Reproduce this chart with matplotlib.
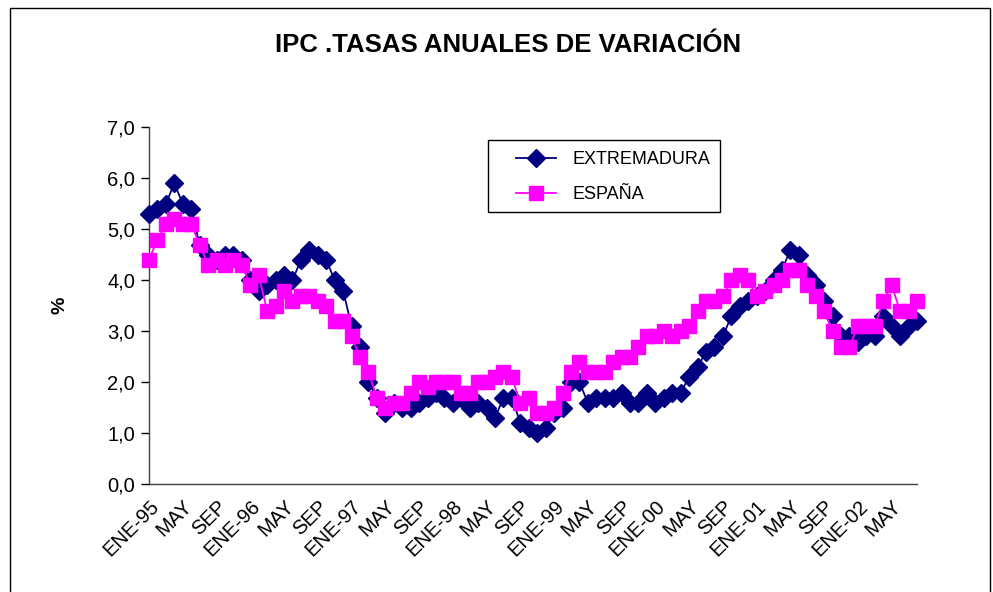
import matplotlib
matplotlib.use("Agg")
import matplotlib.pyplot as plt
from matplotlib.lines import Line2D
from matplotlib.patches import Rectangle

plt.rcParams.update({
    "font.family": ["Liberation Sans", "DejaVu Sans"],
    "font.size": 12,
})

# monthly annual CPI rates, ENE-95 .. AGO-02
extremadura = [
    5.3, 5.4, 5.5, 5.9, 5.5, 5.4, 4.7, 4.5, 4.4, 4.5, 4.5, 4.4,
    4.0, 3.8, 3.9, 4.0, 4.1, 4.0, 4.4, 4.6, 4.5, 4.4, 4.0, 3.8,
    3.1, 2.7, 2.0, 1.7, 1.4, 1.6, 1.5, 1.5, 1.6, 1.7, 1.8, 1.7,
    1.6, 1.7, 1.5, 1.6, 1.5, 1.3, 1.7, 1.7, 1.2, 1.1, 1.0, 1.1,
    1.4, 1.5, 2.0, 2.0, 1.6, 1.7, 1.7, 1.7, 1.8, 1.6, 1.6, 1.8,
    1.6, 1.7, 1.8, 1.8, 2.1, 2.3, 2.6, 2.7, 2.9, 3.3, 3.5, 3.6,
    3.7, 3.8, 4.0, 4.2, 4.6, 4.5, 4.1, 3.9, 3.6, 3.3, 2.9, 2.9,
    2.8, 2.9, 2.9, 3.3, 3.1, 2.9, 3.1, 3.2,
]
espana = [
    4.4, 4.8, 5.1, 5.2, 5.1, 5.1, 4.7, 4.3, 4.4, 4.3, 4.4, 4.3,
    3.9, 4.1, 3.4, 3.5, 3.8, 3.6, 3.7, 3.7, 3.6, 3.5, 3.2, 3.2,
    2.9, 2.5, 2.2, 1.7, 1.5, 1.6, 1.6, 1.8, 2.0, 1.9, 2.0, 2.0,
    2.0, 1.8, 1.8, 2.0, 2.0, 2.1, 2.2, 2.1, 1.6, 1.7, 1.4, 1.4,
    1.5, 1.8, 2.2, 2.4, 2.2, 2.2, 2.2, 2.4, 2.5, 2.5, 2.7, 2.9,
    2.9, 3.0, 2.9, 3.0, 3.1, 3.4, 3.6, 3.6, 3.7, 4.0, 4.1, 4.0,
    3.7, 3.8, 3.9, 4.0, 4.2, 4.2, 3.9, 3.7, 3.4, 3.0, 2.7, 2.7,
    3.1, 3.1, 3.1, 3.6, 3.9, 3.4, 3.4, 3.6,
]
years = ["95", "96", "97", "98", "99", "00", "01", "02"]
tick_labels = []
for y in years:
    tick_labels += ["ENE-" + y, "MAY", "SEP"]
tick_labels = tick_labels[:23]
y_ticks = [0, 1, 2, 3, 4, 5, 6, 7]

NAVY = "#000080"
PINK = "#FF00FF"

fig = plt.figure(figsize=(9.93, 5.92), dpi=100)
ax = fig.add_axes([149 / 993, 1 - 484.3 / 592, 768 / 993, 357 / 592])

x = list(range(len(extremadura)))
ax.plot(x, extremadura, color=NAVY, lw=1.3, marker="D", ms=9,
        mec=NAVY, mfc=NAVY, clip_on=False, zorder=3, label="EXTREMADURA")
ax.plot(x, espana, color=PINK, lw=1.3, marker="s", ms=10.5,
        mec=PINK, mfc=PINK, clip_on=False, zorder=4, label="ESPAÑA")

ax.set_xlim(0, len(x) - 1)
ax.set_ylim(0, 7)
ax.set_yticks(y_ticks)
ax.set_yticklabels([f"{v:.1f}".replace(".", ",") for v in y_ticks], fontsize=14.5)

ax.set_xticks(range(0, 4 * len(tick_labels), 4))
ax.set_xticklabels(tick_labels, rotation=45, ha="right", va="top",
                   rotation_mode="anchor", fontsize=14.5)
ax.tick_params(axis="x", length=0, pad=9)
ax.set_xticks(range(0, len(x), 12), minor=True)
ax.tick_params(axis="x", which="minor", length=6, width=1, direction="out")
ax.tick_params(axis="y", length=6, width=1, direction="out", pad=4)

for s in ["top", "right"]:
    ax.spines[s].set_visible(False)
for s in ["left", "bottom"]:
    ax.spines[s].set_color("#404040")
    ax.spines[s].set_linewidth(1)

ax.set_ylabel("%", fontsize=14, fontweight="bold", labelpad=28)

# legend box drawn by hand, entries placed inside it
ax.add_patch(Rectangle((0.441, 0.763), 0.3025, 0.201, transform=ax.transAxes,
                       facecolor="white", edgecolor="black", lw=1, zorder=5))
leg = ax.legend(loc="upper left", bbox_to_anchor=(0.478, 0.934), frameon=False,
                borderaxespad=0, borderpad=0, fontsize=13,
                handlelength=2.2, handletextpad=0.95, labelspacing=1.0)
leg.set_zorder(6)

fig.text(0.512, 1 - 45 / 592, "IPC .TASAS ANUALES DE VARIACIÓN", ha="center",
         va="center", fontsize=18.5, fontweight="bold")

# outer chart border
fig.add_artist(Line2D([10 / 993, 10 / 993, 990 / 993, 990 / 993],
                      [0, 1 - 8 / 592, 1 - 8 / 592, 0],
                      color="black", lw=1, transform=fig.transFigure))

fig.savefig("out.png", dpi=100, facecolor="white")
